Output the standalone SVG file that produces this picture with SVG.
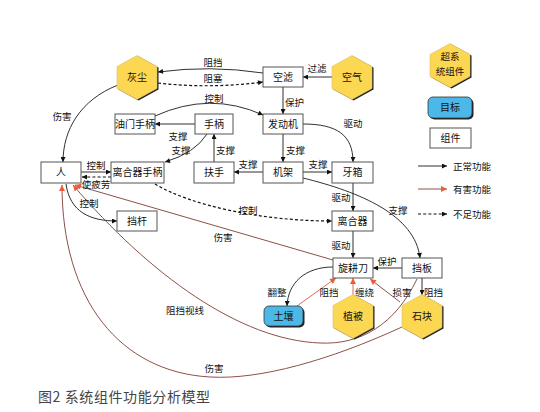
<svg xmlns="http://www.w3.org/2000/svg" width="540" height="412" viewBox="0 0 540 412">
<style>
text{font-family:"Noto Sans CJK SC","Liberation Sans",sans-serif;fill:#111;}
.n{font-size:10px;text-anchor:middle;}
.l{font-size:9.5px;text-anchor:middle;}
.ls{font-size:9.5px;text-anchor:start;}
.box{fill:#fff;stroke:#555;stroke-width:1;}
.hexf{fill:#FCD752;stroke:#d8c070;stroke-width:0.6;}
.hexs{fill:#1a1a1a;}
.tgt{fill:#4CB8E8;stroke:#333;stroke-width:0.8;}
.tgts{fill:#222;}
.c{fill:none;stroke:#1a1a1a;stroke-width:0.9;}
.d{fill:none;stroke:#111;stroke-width:1.2;stroke-dasharray:3 2.2;}
.h{fill:none;stroke:#7E3E30;stroke-width:0.9;}
.h2{fill:none;stroke:#D65C3E;stroke-width:0.9;}
.cap{font-size:14px;fill:#444;letter-spacing:0.6px;}
</style>
<defs>
<polygon id="hex" points="0,-22 20,-11 20,11 0,22 -20,11 -20,-11"/>
<marker id="an" viewBox="0 0 10 10" refX="10" refY="5" markerWidth="6" markerHeight="5" markerUnits="userSpaceOnUse" orient="auto"><path d="M0,0L10,5L0,10z" fill="#111"/></marker>
<marker id="ah" viewBox="0 0 10 10" refX="10" refY="5" markerWidth="7" markerHeight="6" markerUnits="userSpaceOnUse" orient="auto"><path d="M0,0L10,5L0,10z" fill="#F05A3A"/></marker>
</defs>

<g id="connectors">
<path class="c" d="M263,73 Q210,65 158,72" marker-end="url(#an)"/>
<path class="d" d="M158,83 Q210,89 263,82" marker-end="url(#an)"/>
<path class="c" d="M332,77 L303,77" marker-end="url(#an)"/>
<path class="c" d="M283,87 L283,114" marker-end="url(#an)"/>
<path class="c" d="M155,116 Q210,91 263,115" marker-end="url(#an)"/>
<path class="c" d="M195,124 L155,124" marker-end="url(#an)"/>
<path class="c" d="M207,134 Q195,153 165,162" marker-end="url(#an)"/>
<path class="c" d="M214,162 L214,134" marker-end="url(#an)"/>
<path class="c" d="M283,134 L283,162" marker-end="url(#an)"/>
<path class="c" d="M263,172 L234,172" marker-end="url(#an)"/>
<path class="c" d="M303,172 L332,172" marker-end="url(#an)"/>
<path class="c" d="M303,124 C337,124 353,135 353,162" marker-end="url(#an)"/>
<path class="c" d="M353,183 L353,211" marker-end="url(#an)"/>
<path class="c" d="M353,231 L353,258" marker-end="url(#an)"/>
<path class="c" d="M303,178 C360,192 415,215 420,258" marker-end="url(#an)"/>
<path class="c" d="M402,268 L373,268" marker-end="url(#an)"/>
<path class="c" d="M333,267 C305,267 288,283 287,306" marker-end="url(#an)"/>
<path class="c" d="M422,278 L422,295" marker-end="url(#an)"/>
<path class="c" d="M118,85 C80,100 63,130 63,162" marker-end="url(#an)"/>
<path class="c" d="M81,172 L111,172" marker-end="url(#an)"/>
<path class="d" d="M111,177 L82,177" marker-end="url(#an)"/>
<path class="d" d="M155,184 C190,205 260,221 332,221" marker-end="url(#an)"/>
<path class="c" d="M66,184 C70,212 90,221 117,221" marker-end="url(#an)"/>
<path class="h2" d="M297,306 L336,278" marker-end="url(#ah)"/>
<path class="h2" d="M353,295 L353,278" marker-end="url(#ah)"/>
<path class="h" d="M400,302 L370,279" marker-end="url(#ah)"/>
<path class="h" d="M333,260 L75,185" marker-end="url(#ah)"/>
<path class="h" d="M417,279 C395,325 360,345 320,343 C240,340 150,275 73,185" marker-end="url(#ah)"/>
<path class="h" d="M402,327 C330,360 260,380 210,377 C120,372 62,300 62,185" marker-end="url(#ah)"/>
</g>

<g id="labels">
<text class="l" x="213" y="65.5">阻挡</text>
<text class="l" x="213" y="81.5">阻塞</text>
<text class="l" x="317" y="71.5">过滤</text>
<text class="ls" x="285" y="105.5">保护</text>
<text class="l" x="214" y="101.5">控制</text>
<text class="l" x="178" y="139.5">支撑</text>
<text class="l" x="181" y="153.5">支撑</text>
<text class="ls" x="216" y="153.5">支撑</text>
<text class="ls" x="286" y="153.5">支撑</text>
<text class="l" x="248" y="168">支撑</text>
<text class="l" x="318" y="168">支撑</text>
<text class="l" x="353" y="127">驱动</text>
<text class="l" x="341" y="200.5">驱动</text>
<text class="l" x="341" y="248.5">驱动</text>
<text class="l" x="398" y="213.5">支撑</text>
<text class="l" x="387" y="264.5">保护</text>
<text class="l" x="277" y="295.5">翻整</text>
<text class="l" x="329" y="295.5">阻挡</text>
<text class="ls" x="355" y="295.5">缠绕</text>
<text class="l" x="402" y="295.5">损害</text>
<text class="ls" x="424" y="295.5">阻挡</text>
<text class="l" x="62" y="119.5">伤害</text>
<text class="l" x="96" y="168.5">控制</text>
<text class="l" x="96" y="188">使疲劳</text>
<text class="l" x="89" y="206.5">控制</text>
<text class="l" x="248" y="213.5">控制</text>
<text class="l" x="223" y="240.5">伤害</text>
<text class="l" x="185" y="313.5">阻挡视线</text>
<text class="l" x="214" y="371.5">伤害</text>
</g>

<g id="n-huichen"><use href="#hex" class="hexs" x="138.5" y="78.5"/><use href="#hex" class="hexf" x="137" y="77.5"/><text class="n" x="137" y="81">灰尘</text></g>
<g id="n-kongqi"><use href="#hex" class="hexs" x="353.5" y="78.5"/><use href="#hex" class="hexf" x="352" y="77.5"/><text class="n" x="352" y="81">空气</text></g>
<g id="n-zhibei"><use href="#hex" class="hexs" x="354.5" y="317.5"/><use href="#hex" class="hexf" x="353" y="316.5"/><text class="n" x="353" y="320">植被</text></g>
<g id="n-shikuai"><use href="#hex" class="hexs" x="423.5" y="317.5"/><use href="#hex" class="hexf" x="422" y="316.5"/><text class="n" x="422" y="320">石块</text></g>

<g id="n-kongl"><rect class="box" x="263" y="67" width="40" height="20"/><text class="n" x="283" y="80.5">空滤</text></g>
<g id="n-youmen"><rect class="box" x="115" y="114" width="40" height="20"/><text class="n" x="135" y="127.5">油门手柄</text></g>
<g id="n-shoubing"><rect class="box" x="195" y="114" width="38" height="20"/><text class="n" x="214" y="127.5">手柄</text></g>
<g id="n-fadongji"><rect class="box" x="263" y="114" width="40" height="20"/><text class="n" x="283" y="127.5">发动机</text></g>
<g id="n-ren"><rect class="box" x="41" y="162" width="40" height="21"/><text class="n" x="61" y="176">人</text></g>
<g id="n-lhqsb"><rect class="box" x="111" y="162" width="53" height="21"/><text class="n" x="137.5" y="176">离合器手柄</text></g>
<g id="n-fushou"><rect class="box" x="194" y="162" width="40" height="21"/><text class="n" x="214" y="176">扶手</text></g>
<g id="n-jijia"><rect class="box" x="263" y="162" width="40" height="21"/><text class="n" x="283" y="176">机架</text></g>
<g id="n-yaxiang"><rect class="box" x="332" y="162" width="41" height="21"/><text class="n" x="352.5" y="176">牙箱</text></g>
<g id="n-liheqi"><rect class="box" x="332" y="211" width="41" height="20"/><text class="n" x="352.5" y="224.5">离合器</text></g>
<g id="n-dangan"><rect class="box" x="117" y="211" width="40" height="20"/><text class="n" x="137" y="224.5">挡杆</text></g>
<g id="n-xgd"><rect class="box" x="333" y="258" width="40" height="20"/><text class="n" x="353" y="271.5">旋耕刀</text></g>
<g id="n-dangban"><rect class="box" x="402" y="258" width="40" height="20"/><text class="n" x="422" y="271.5">挡板</text></g>
<g id="n-turang"><rect class="tgts" x="265.5" y="307.5" width="39" height="20" rx="5"/><rect class="tgt" x="264" y="306" width="39" height="20" rx="5"/><text class="n" x="283.5" y="319.5">土壤</text></g>

<g id="legend">
<use href="#hex" class="hexs" x="451.5" y="66.5"/><use href="#hex" class="hexf" x="450" y="65.5"/>
<text class="l" x="450" y="60">超系</text><text class="l" x="450" y="74.5">统组件</text>
<rect class="tgts" x="429.5" y="98.5" width="44" height="21" rx="5"/><rect class="tgt" x="428" y="97" width="44" height="21" rx="5"/><text class="n" x="450" y="111">目标</text>
<rect class="box" x="430" y="128" width="41" height="20"/><text class="n" x="450.5" y="141.5">组件</text>
<path class="c" d="M418,166 L447,166" marker-end="url(#an)"/><text class="ls" x="453" y="169.5">正常功能</text>
<path class="h" d="M418,189 L447,189" marker-end="url(#ah)"/><text class="ls" x="453" y="192.5">有害功能</text>
<path class="d" d="M418,214 L447,214" marker-end="url(#an)"/><text class="ls" x="453" y="217.5">不足功能</text>
</g>

<text class="cap" x="38" y="402">图2 系统组件功能分析模型</text>
</svg>
